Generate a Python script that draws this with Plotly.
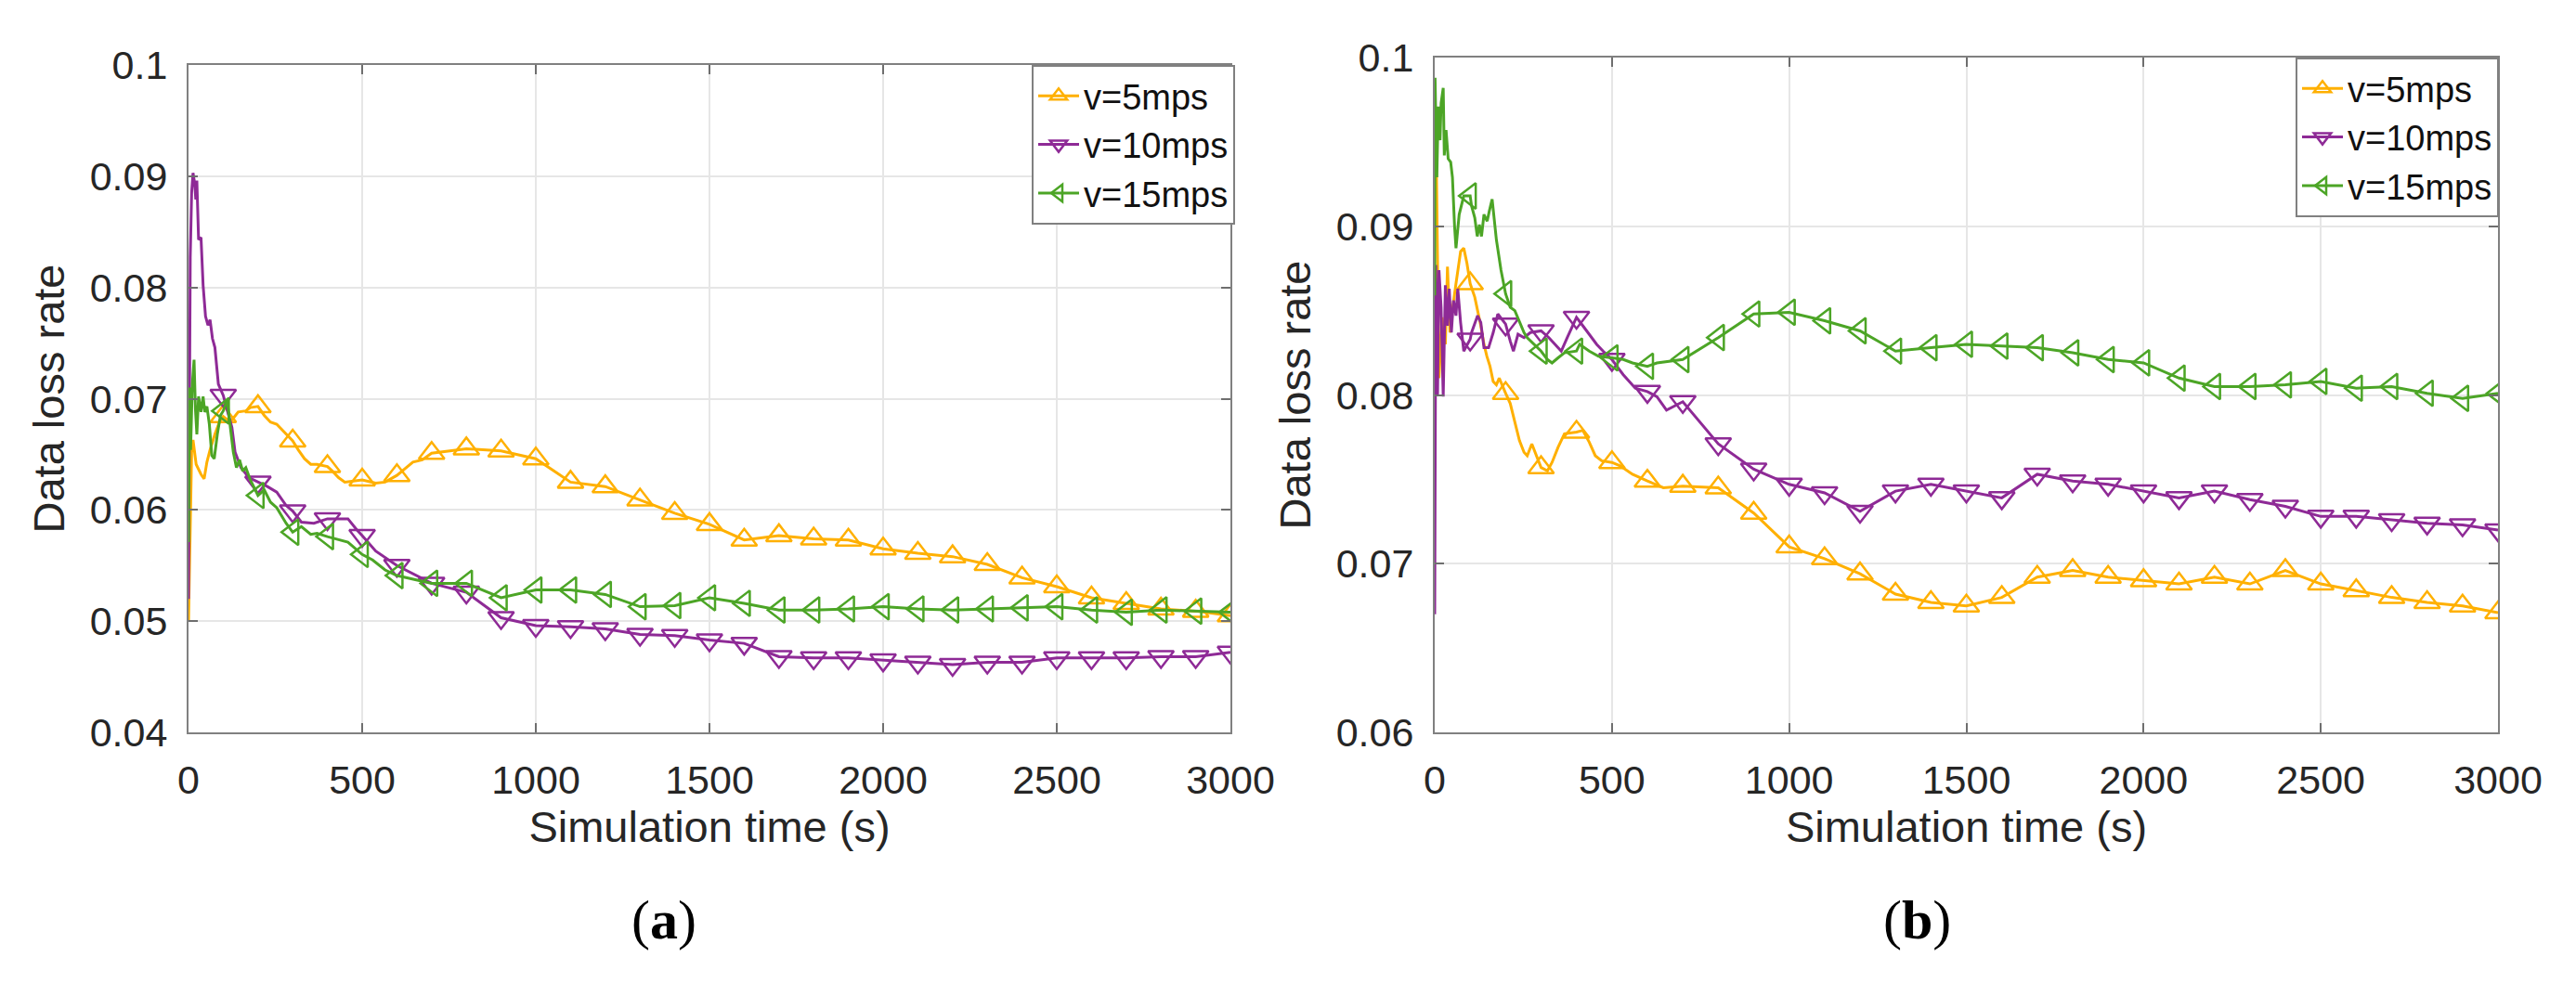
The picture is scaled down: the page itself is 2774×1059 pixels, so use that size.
import plotly.graph_objects as go

# ---------------- data ----------------
marker_t = list(range(100, 3001, 100))
x_ticks = [0, 500, 1000, 1500, 2000, 2500, 3000]
ya_ticks = [0.04, 0.05, 0.06, 0.07, 0.08, 0.09, 0.1]
ya_text = ["0.04", "0.05", "0.06", "0.07", "0.08", "0.09", "0.1"]
yb_ticks = [0.06, 0.07, 0.08, 0.09, 0.1]
yb_text = ["0.06", "0.07", "0.08", "0.09", "0.1"]
names = ["v=5mps", "v=10mps", "v=15mps"]

# panel (a) marker values (t = 100..3000)
a5_mv = [0.0684, 0.0693, 0.0662, 0.0639, 0.0627, 0.0631, 0.0651, 0.0655, 0.0653, 0.0646,
         0.0625, 0.0621, 0.0609, 0.0597, 0.0587, 0.0573, 0.0577, 0.0574, 0.0573, 0.0565,
         0.0561, 0.0558, 0.0551, 0.0539, 0.0531, 0.0521, 0.0516, 0.0511, 0.0509, 0.0505]
a10_mv = [0.0703, 0.0625, 0.0599, 0.0592, 0.0577, 0.0550, 0.0534, 0.0526, 0.0503, 0.0496,
          0.0495, 0.0493, 0.0488, 0.0487, 0.0483, 0.0480, 0.0468, 0.0467, 0.0467, 0.0465,
          0.0463, 0.0461, 0.0463, 0.0463, 0.0467, 0.0467, 0.0467, 0.0468, 0.0468, 0.0472]
a15_mv = [0.0689, 0.0613, 0.0580, 0.0576, 0.0560, 0.0541, 0.0534, 0.0534, 0.0521, 0.0528,
          0.0528, 0.0524, 0.0513, 0.0514, 0.0521, 0.0516, 0.0510, 0.0510, 0.0511, 0.0513,
          0.0511, 0.0510, 0.0511, 0.0512, 0.0513, 0.0510, 0.0508, 0.0510, 0.0509, 0.0508]

# panel (a) extra line points between markers (early, noisy part)
a5_et = [0, 3, 9, 13, 22, 36, 45, 53, 62, 76, 89, 120, 143, 165, 178, 218, 236, 254, 272,
         316, 334, 352, 370, 414, 432, 450, 539, 566, 646, 673]
a5_ev = [0.0500, 0.0560, 0.0652, 0.0663, 0.0641, 0.0632, 0.0628, 0.0643, 0.0654, 0.0668, 0.0679,
         0.0679, 0.0688, 0.0689, 0.0692, 0.0685, 0.0679, 0.0677, 0.0671,
         0.0654, 0.0646, 0.0641, 0.0641, 0.0635, 0.0629, 0.0625, 0.0624, 0.0625, 0.0643, 0.0645]
a10_et = [0, 2, 5, 9, 13, 18, 21, 24, 29, 36, 42, 49, 56, 62, 69, 76, 86, 125, 134, 151, 174,
          227, 254, 281, 325, 361, 432, 459, 485, 539, 575]
a10_ev = [0.0520, 0.0700, 0.0827, 0.0885, 0.0903, 0.0893, 0.0879, 0.0896, 0.0843, 0.0845, 0.0802,
          0.0774, 0.0766, 0.0771, 0.0754, 0.0746, 0.0713, 0.0674, 0.0652, 0.0638, 0.0629,
          0.0621, 0.0616, 0.0604, 0.0589, 0.0588, 0.0592, 0.0592, 0.0582, 0.0563, 0.0555]
a15_et = [0, 3, 6, 11, 16, 20, 24, 29, 36, 42, 47, 53, 60, 67, 74, 83, 92, 111, 129, 138, 147,
          156, 165, 178, 218, 236, 254, 281, 325, 352, 370, 423, 459, 530, 566]
a15_ev = [0.0571, 0.0710, 0.0654, 0.0713, 0.0735, 0.0690, 0.0668, 0.0702, 0.0688, 0.0702, 0.0688,
          0.0693, 0.0677, 0.0649, 0.0646, 0.0668, 0.0685, 0.0699, 0.0652, 0.0638, 0.0645,
          0.0635, 0.0638, 0.0627, 0.0618, 0.0607, 0.0602, 0.0588, 0.0585, 0.0578, 0.0579,
          0.0574, 0.0571, 0.0555, 0.0546]

# panel (b) marker values (t = 100..3000)
b5_mv = [0.0866, 0.0801, 0.0757, 0.0778, 0.0760, 0.0749, 0.0746, 0.0745, 0.0730, 0.0710,
         0.0703, 0.0694, 0.0682, 0.0677, 0.0675, 0.0680, 0.0692, 0.0696, 0.0692, 0.0690,
         0.0688, 0.0692, 0.0688, 0.0696, 0.0688, 0.0684, 0.0680, 0.0677, 0.0675, 0.0671]
b10_mv = [0.0833, 0.0842, 0.0838, 0.0846, 0.0821, 0.0802, 0.0796, 0.0771, 0.0756, 0.0747,
          0.0742, 0.0731, 0.0743, 0.0747, 0.0743, 0.0739, 0.0753, 0.0749, 0.0747, 0.0743,
          0.0739, 0.0743, 0.0738, 0.0734, 0.0728, 0.0728, 0.0726, 0.0724, 0.0723, 0.0720]
b15_mv = [0.0918, 0.0860, 0.0826, 0.0826, 0.0822, 0.0817, 0.0821, 0.0834, 0.0848, 0.0849,
          0.0844, 0.0838, 0.0826, 0.0828, 0.0830, 0.0829, 0.0828, 0.0825, 0.0821, 0.0819,
          0.0810, 0.0805, 0.0805, 0.0806, 0.0808, 0.0804, 0.0805, 0.0801, 0.0798, 0.0801]

# panel (b) extra line points (early, noisy part)
b5_et = [0, 5, 12, 21, 30, 36, 43, 47, 60, 73, 82, 91, 113, 121, 130, 139, 147, 156, 165, 174,
         182, 213, 226, 239, 252, 261, 274, 318, 331, 348, 366, 418, 436, 453, 471, 523, 558, 645]
b5_ev = [0.0960, 0.0930, 0.0810, 0.0846, 0.0830, 0.0876, 0.0837, 0.0846, 0.0866, 0.0885, 0.0887,
         0.0878, 0.0858, 0.0850, 0.0841, 0.0830, 0.0823, 0.0817, 0.0808, 0.0806, 0.0810,
         0.0795, 0.0784, 0.0773, 0.0766, 0.0764, 0.0771, 0.0755, 0.0760, 0.0769, 0.0777,
         0.0779, 0.0772, 0.0764, 0.0761, 0.0758, 0.0753, 0.0745]
b10_et = [0, 3, 8, 12, 18, 24, 30, 36, 41, 47, 53, 60, 65, 73, 82, 104, 121, 130, 139, 152, 165,
          178, 213, 222, 235, 252, 270, 322, 339, 357, 374, 418, 436, 457, 475, 514, 532, 549,
          566, 627, 654]
b10_ev = [0.0670, 0.0877, 0.0800, 0.0874, 0.0852, 0.0799, 0.0865, 0.0841, 0.0863, 0.0837, 0.0856,
          0.0847, 0.0863, 0.0843, 0.0826, 0.0837, 0.0847, 0.0843, 0.0828, 0.0828, 0.0837,
          0.0848, 0.0832, 0.0826, 0.0836, 0.0834, 0.0837, 0.0834, 0.0830, 0.0826, 0.0834,
          0.0841, 0.0836, 0.0830, 0.0826, 0.0817, 0.0812, 0.0808, 0.0804, 0.0799, 0.0791]
b15_et = [0, 1, 6, 10, 15, 18, 24, 27, 32, 38, 45, 50, 56, 60, 69, 76, 82, 104, 113, 120, 126,
          132, 139, 148, 154, 162, 174, 187, 213, 226, 239, 252, 261, 318, 331, 348, 366, 409,
          436, 462, 532, 558, 627]
b15_ev = [0.0859, 0.0988, 0.0929, 0.0971, 0.0951, 0.0973, 0.0982, 0.0942, 0.0957, 0.0940, 0.0938,
          0.0929, 0.0900, 0.0887, 0.0907, 0.0914, 0.0918, 0.0912, 0.0905, 0.0894, 0.0901,
          0.0894, 0.0907, 0.0903, 0.0909, 0.0916, 0.0892, 0.0874, 0.0852, 0.0850, 0.0843,
          0.0837, 0.0834, 0.0821, 0.0819, 0.0822, 0.0825, 0.0830, 0.0826, 0.0823, 0.0821,
          0.0819, 0.0819]

# ---------------- style ----------------
W, H = 2774, 1059
ML, MR, MT, MB = 195, 92, 54, 278
PW, PH = W - ML - MR, H - MT - MB
FONT = "Liberation Sans, Arial, sans-serif"
TXT = "#262626"
colors = ["#FFB000", "#8E2A96", "#4CA526"]
symbols = ["triangle-up-open", "triangle-down-open", "triangle-left-open"]
MSIZE = 24


def fx(px):
    return (px - ML) / PW


def fy(py):
    return (H - MB - py) / PH


def merge(et, ev, mt, mv):
    pts = sorted(zip(list(et) + list(mt), list(ev) + list(mv)))
    return [p[0] for p in pts], [p[1] for p in pts]


fig = go.Figure()

panels = [
    ("x", "y", "legend", [(a5_et, a5_ev, a5_mv), (a10_et, a10_ev, a10_mv), (a15_et, a15_ev, a15_mv)]),
    ("x2", "y2", "legend2", [(b5_et, b5_ev, b5_mv), (b10_et, b10_ev, b10_mv), (b15_et, b15_ev, b15_mv)]),
]

for xa, ya, lg, series in panels:
    for i, (et, ev, mv) in enumerate(series):
        lx, ly = merge(et, ev, marker_t, mv)
        fig.add_trace(go.Scatter(x=lx, y=ly, xaxis=xa, yaxis=ya, mode="lines",
                                 line=dict(color=colors[i], width=3), showlegend=False,
                                 hoverinfo="skip"))
        fig.add_trace(go.Scatter(x=marker_t, y=mv, xaxis=xa, yaxis=ya, mode="markers",
                                 marker=dict(symbol=symbols[i], size=MSIZE, color=colors[i],
                                             line=dict(width=2.5, color=colors[i])),
                                 showlegend=False))
    for i in range(3):
        fig.add_trace(go.Scatter(x=[None], y=[None], xaxis=xa, yaxis=ya, mode="lines+markers",
                                 name=names[i], legend=lg,
                                 line=dict(color=colors[i], width=3),
                                 marker=dict(symbol=symbols[i], size=MSIZE, color=colors[i],
                                             line=dict(width=2.5, color=colors[i]))))

axis_common = dict(
    showline=True, linecolor="#808080", linewidth=2, mirror="allticks",
    ticks="inside", ticklen=10, tickwidth=2, tickcolor="#6e6e6e",
    showgrid=True, gridcolor="#e6e6e6", gridwidth=2, zeroline=False,
    tickfont=dict(family=FONT, size=43, color=TXT),
)

xa_dom = [fx(195), fx(1317)]
xb_dom = [fx(1537), fx(2682)]
ya_dom = [fy(781), fy(62)]
yb_dom = [fy(781), fy(54)]
title_font = dict(size=47, family=FONT, color=TXT)
legend_style = dict(xanchor="right", yanchor="top", bgcolor="white", bordercolor="#808080",
                    borderwidth=2, font=dict(family=FONT, size=38, color="#111111"),
                    itemwidth=44, tracegroupgap=0)

fig.update_layout(
    width=W, height=H,
    margin=dict(l=ML, r=MR, t=MT, b=MB),
    paper_bgcolor="white", plot_bgcolor="white",
    font=dict(family=FONT, color=TXT),
    xaxis=dict(domain=xa_dom, range=[0, 3000], tickvals=x_ticks, anchor="y",
               title=dict(text="Simulation time (s)", font=title_font, standoff=10),
               ticklabelstandoff=12, **axis_common),
    yaxis=dict(domain=ya_dom, range=[0.04, 0.1], tickvals=ya_ticks, ticktext=ya_text, anchor="x",
               title=dict(text="Data loss rate", font=title_font, standoff=12),
               ticklabelstandoff=12, **axis_common),
    xaxis2=dict(domain=xb_dom, range=[0, 3000], tickvals=x_ticks, anchor="y2",
                title=dict(text="Simulation time (s)", font=title_font, standoff=10),
                ticklabelstandoff=12, **axis_common),
    yaxis2=dict(domain=yb_dom, range=[0.06, 0.1], tickvals=yb_ticks, ticktext=yb_text, anchor="x2",
                title=dict(text="Data loss rate", font=title_font, standoff=12),
                ticklabelstandoff=12, **axis_common),
    legend=dict(x=fx(1322), y=fy(62), **legend_style),
    legend2=dict(x=fx(2683), y=fy(54), **legend_style),
    annotations=[
        dict(text="(<b>a</b>)", x=fx(707), y=fy(983), xref="paper", yref="paper",
             showarrow=False, xanchor="center", yanchor="middle",
             font=dict(family="Liberation Serif, Times New Roman, serif", size=60, color="#000000")),
        dict(text="(<b>b</b>)", x=fx(2056), y=fy(983), xref="paper", yref="paper",
             showarrow=False, xanchor="center", yanchor="middle",
             font=dict(family="Liberation Serif, Times New Roman, serif", size=60, color="#000000")),
    ],
)

fig.write_html("out.html")
